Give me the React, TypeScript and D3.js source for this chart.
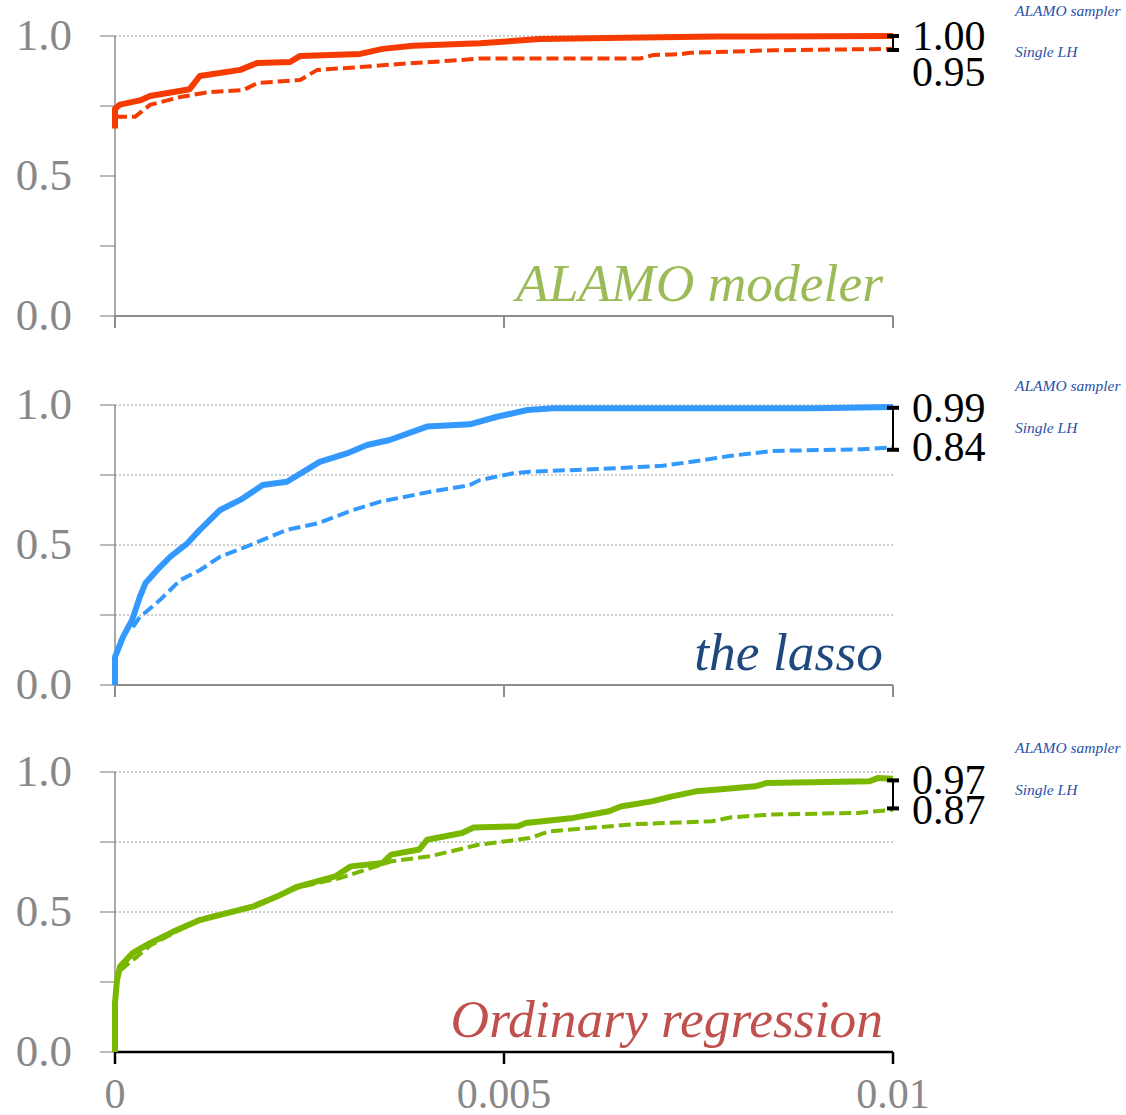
import React from 'react';
import * as d3 from 'd3';

// error thresholds on the x axis, fraction of test points on the y axis
const xTicks = [0, 0.005, 0.01];
const xTickLabels = ['0', '0.005', '0.01'];
const yTicks = [0, 0.25, 0.5, 0.75, 1];
const yTickLabels = ['0.0', '', '0.5', '', '1.0'];

const legendLabels = ['ALAMO sampler', 'Single LH'];
const panelTitles = ['ALAMO modeler', 'the lasso', 'Ordinary regression'];
const endValues = [[1.0, 0.95], [0.99, 0.84], [0.97, 0.87]];
const endLabels = [['1.00', '0.95'], ['0.99', '0.84'], ['0.97', '0.87']];

// ALAMO modeler
const alamoSampler: [number, number][] = [
  [0, 0.67], [0, 0.74], [0.000064, 0.755], [0.00032, 0.77], [0.00045, 0.786], [0.00096, 0.81],
  [0.00109, 0.857], [0.00161, 0.879], [0.00183, 0.904], [0.00225, 0.907], [0.00238, 0.929],
  [0.00315, 0.936], [0.00344, 0.954], [0.00383, 0.965], [0.00469, 0.974], [0.00546, 0.989],
  [0.00653, 0.994], [0.00774, 0.998], [0.01, 1.0],
];
const alamoSingle: [number, number][] = [
  [0, 0.712], [0.00026, 0.712], [0.00045, 0.754], [0.00084, 0.782], [0.00122, 0.8], [0.00165, 0.807],
  [0.00183, 0.832], [0.00238, 0.843], [0.0026, 0.879], [0.00315, 0.889], [0.00366, 0.9],
  [0.00443, 0.914], [0.00469, 0.92], [0.00675, 0.92], [0.00692, 0.932], [0.00726, 0.935],
  [0.00739, 0.94], [0.00846, 0.949], [0.01, 0.954],
];

// the lasso
const lassoSampler: [number, number][] = [
  [0, 0], [0, 0.1], [0.0001, 0.17], [0.00022, 0.232], [0.00032, 0.315], [0.00039, 0.363],
  [0.00054, 0.41], [0.00071, 0.458], [0.00093, 0.506], [0.00109, 0.554], [0.00135, 0.625],
  [0.00161, 0.661], [0.0019, 0.714], [0.00221, 0.726], [0.00263, 0.797], [0.00298, 0.827],
  [0.00324, 0.857], [0.00353, 0.875], [0.00383, 0.905], [0.00401, 0.923], [0.00456, 0.931],
  [0.00491, 0.958], [0.0053, 0.982], [0.00563, 0.988], [0.00897, 0.988], [0.01, 0.993],
];
const lassoSingle: [number, number][] = [
  [0.00023, 0.207], [0.00032, 0.243], [0.00058, 0.304], [0.00084, 0.375], [0.00109, 0.41],
  [0.00135, 0.458], [0.00174, 0.5], [0.00221, 0.554], [0.0026, 0.577], [0.00306, 0.625],
  [0.00341, 0.655], [0.00405, 0.69], [0.00456, 0.714], [0.00469, 0.732], [0.00512, 0.756],
  [0.00533, 0.762], [0.0062, 0.771], [0.00704, 0.783], [0.00748, 0.8], [0.0079, 0.818],
  [0.00846, 0.836], [0.00961, 0.842], [0.01, 0.849],
];

// ordinary regression
const olsSampler: [number, number][] = [
  [0, 0], [0, 0.175], [0.000026, 0.257], [0.000064, 0.305], [0.00023, 0.354], [0.00045, 0.389],
  [0.00075, 0.43], [0.00109, 0.471], [0.00144, 0.496], [0.00177, 0.519], [0.00208, 0.555],
  [0.00234, 0.59], [0.00283, 0.627], [0.00303, 0.663], [0.00344, 0.675], [0.00355, 0.705],
  [0.00391, 0.723], [0.00401, 0.758], [0.00446, 0.782], [0.00461, 0.802], [0.00518, 0.806],
  [0.00528, 0.818], [0.00589, 0.836], [0.00635, 0.86], [0.0065, 0.877], [0.0069, 0.895],
  [0.00716, 0.913], [0.00747, 0.931], [0.00772, 0.937], [0.00823, 0.949], [0.00838, 0.961],
  [0.0097, 0.967], [0.00981, 0.979], [0.01, 0.976],
];
const olsSingle: [number, number][] = [
  [0.000064, 0.29], [0.00045, 0.38], [0.00109, 0.475], [0.00174, 0.52], [0.00238, 0.59],
  [0.00288, 0.62], [0.00355, 0.681], [0.00405, 0.699], [0.00467, 0.74], [0.00533, 0.764],
  [0.00558, 0.788], [0.00609, 0.8], [0.0067, 0.814], [0.00767, 0.824], [0.00792, 0.838],
  [0.00843, 0.848], [0.00955, 0.854], [0.01, 0.865],
];

const serif = '"Liberation Serif", "Times New Roman", Times, serif';

const panels = [
  { top: 36, color: '#f53b00', titleColor: '#9bbb59', grid: [1], axisColor: '#8c8c8c', solid: alamoSampler, dashed: alamoSingle, gap: 36, legendDy: [-20, 21] },
  { top: 405, color: '#3399ff', titleColor: '#1f497d', grid: [1, 0.75, 0.5, 0.25], axisColor: '#8c8c8c', solid: lassoSampler, dashed: lassoSingle, gap: 39, legendDy: [-14, 28] },
  { top: 772, color: '#7ab800', titleColor: '#c0504d', grid: [1, 0.75, 0.5], axisColor: '#000', solid: olsSampler, dashed: olsSingle, gap: 30, legendDy: [-19, 23] },
];

const W = 1126;
const H = 1115;
const plotH = 280;

export default function App() {
  const x = d3.scaleLinear().domain([0, 0.01]).range([115, 893]);

  return (
    <svg width={W} height={H} style={{ position: 'absolute', left: 0, top: 0, background: '#fff' }}>
      {panels.map((p, i) => {
        const y = d3.scaleLinear().domain([0, 1]).range([p.top + plotH, p.top]);
        const line = d3.line<[number, number]>().x(d => x(d[0])).y(d => y(d[1]));
        const [hi, lo] = endValues[i];
        const hiY = y(hi);
        const loY = y(lo);
        const topLabel = hiY + 14;
        const botLabel = topLabel + p.gap;
        const isLast = i === panels.length - 1;
        return (
          <g key={i}>
            {/* dotted grid */}
            {p.grid.map(g => (
              <line key={g} x1={x(0)} x2={x(0.01)} y1={y(g)} y2={y(g)}
                stroke="#999" strokeWidth={1} strokeDasharray="2,2" />
            ))}
            {/* y axis */}
            <line x1={x(0)} x2={x(0)} y1={y(0)} y2={y(1)} stroke="#8c8c8c" strokeWidth={1.5} />
            {yTicks.map((t, k) => (
              <g key={t}>
                <line x1={x(0) - 15} x2={x(0)} y1={y(t)} y2={y(t)} stroke="#8c8c8c" strokeWidth={1.2} />
                {yTickLabels[k] && (
                  <text x={72} y={y(t) + 14} textAnchor="end" fontFamily={serif} fontSize={45} fill="#888">
                    {yTickLabels[k]}
                  </text>
                )}
              </g>
            ))}
            {/* x axis */}
            <line x1={x(0)} x2={x(0.01)} y1={y(0)} y2={y(0)} stroke={p.axisColor} strokeWidth={isLast ? 2.5 : 2} />
            {xTicks.map((t, k) => (
              <g key={t}>
                <line x1={x(t)} x2={x(t)} y1={y(0)} y2={y(0) + 12} stroke={p.axisColor} strokeWidth={isLast ? 2.5 : 2} />
                {isLast && (
                  <text x={x(t)} y={1108} textAnchor="middle" fontFamily={serif} fontSize={42} fill="#888">
                    {xTickLabels[k]}
                  </text>
                )}
              </g>
            ))}
            {/* curves */}
            <path d={line(p.dashed) || ''} fill="none" stroke={p.color} strokeWidth={4}
              strokeDasharray="12,5" />
            <path d={line(p.solid) || ''} fill="none" stroke={p.color} strokeWidth={6}
              strokeLinejoin="round" />
            {/* gap marker */}
            <line x1={x(0.01)} x2={x(0.01)} y1={hiY} y2={loY} stroke="#000" strokeWidth={2} />
            <line x1={x(0.01) - 6} x2={x(0.01) + 6} y1={hiY} y2={hiY} stroke="#000" strokeWidth={4} />
            <line x1={x(0.01) - 6} x2={x(0.01) + 6} y1={loY} y2={loY} stroke="#000" strokeWidth={4} />
            <text x={912} y={topLabel} fontFamily={serif} fontSize={42} fill="#000">{endLabels[i][0]}</text>
            <text x={912} y={botLabel} fontFamily={serif} fontSize={42} fill="#000">{endLabels[i][1]}</text>
            {/* legend */}
            <text x={1015} y={p.top + p.legendDy[0]} fontFamily={serif} fontStyle="italic" fontSize={15.5} fill="#2a52a8">
              {legendLabels[0]}
            </text>
            <text x={1015} y={p.top + p.legendDy[1]} fontFamily={serif} fontStyle="italic" fontSize={15.5} fill="#2a52a8">
              {legendLabels[1]}
            </text>
            {/* panel title */}
            <text x={883} y={p.top + 265} textAnchor="end" fontFamily={serif} fontStyle="italic" fontSize={53.5} fill={p.titleColor}>
              {panelTitles[i]}
            </text>
          </g>
        );
      })}
    </svg>
  );
}
